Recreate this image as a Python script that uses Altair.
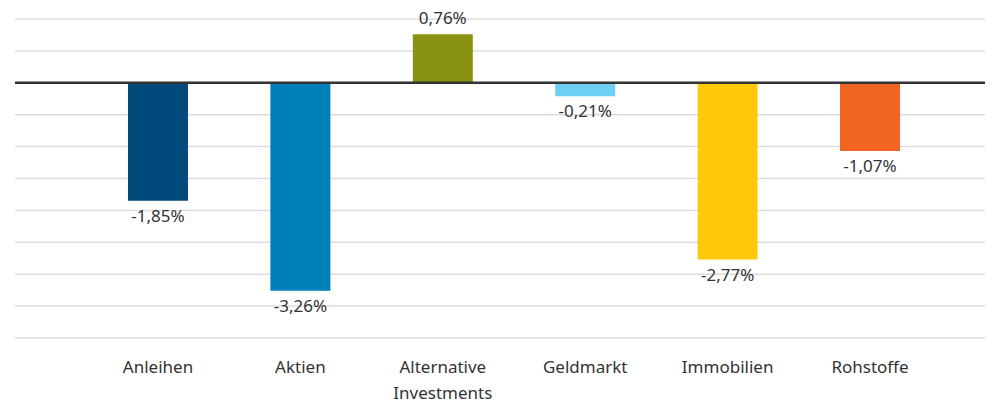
import altair as alt
import pandas as pd

categories = ["Anleihen", "Aktien", "Alternative Investments", "Geldmarkt", "Immobilien", "Rohstoffe"]
values = [-1.85, -3.26, 0.76, -0.21, -2.77, -1.07]
colors = ["#004b7c", "#0080b8", "#8a9212", "#6dcff6", "#ffc90b", "#f26522"]
grid_ticks = [1.0, 0.5, -0.5, -1.0, -1.5, -2.0, -2.5, -3.0, -3.5, -4.0]

df = pd.DataFrame({"cat": categories, "value": values, "color": colors})
grid_df = pd.DataFrame({"g": grid_ticks})

W = 970
H = 319
FONT = "Noto Sans"

x_enc = alt.X(
    "cat:N",
    sort=categories,
    scale=alt.Scale(range=[113, 885], paddingInner=0.579, paddingOuter=0),
    axis=alt.Axis(
        title=None, domain=False, ticks=False, labelAngle=0, grid=False,
        labelFont=FONT, labelFontSize=17, labelColor="#333333",
        labelPadding=21, labelLineHeight=26,
        labelExpr="split(datum.value, ' ')",
    ),
)
y_scale = alt.Scale(domain=[-4, 1], nice=False, zero=True)
y_enc = alt.Y("value:Q", scale=y_scale, axis=None)

grid = alt.Chart(grid_df).mark_rule(color="#dcdcdc", strokeWidth=1.5).encode(
    y=alt.Y("g:Q", scale=y_scale, axis=None), x=alt.value(0), x2=alt.value(W)
)

base = alt.Chart(df).transform_calculate(
    label="(datum.value < 0 ? '-' : '') + replace(format(abs(datum.value), '.2f'), '.', ',') + '%'"
)

bars = base.mark_bar(size=60).encode(
    x=x_enc,
    y=y_enc,
    color=alt.Color("color:N", scale=None),
)

txt_neg = base.transform_filter("datum.value < 0").mark_text(
    baseline="top", dy=8, font=FONT, fontSize=17, color="#333333"
).encode(x=alt.X("cat:N", sort=categories), y="value:Q", text="label:N")

txt_pos = base.transform_filter("datum.value >= 0").mark_text(
    baseline="bottom", dy=-6, font=FONT, fontSize=17, color="#333333"
).encode(x=alt.X("cat:N", sort=categories), y="value:Q", text="label:N")

zero = alt.Chart(pd.DataFrame({"z": [0]})).mark_rule(color="#333333", strokeWidth=2.5).encode(
    y=alt.Y("z:Q", scale=y_scale, axis=None), x=alt.value(0), x2=alt.value(W)
)

chart = alt.layer(grid, bars, zero, txt_neg, txt_pos).properties(
    width=W, height=H,
    autosize=alt.AutoSizeParams(type="none"),
    padding={"left": 7, "top": 11, "right": 0, "bottom": 66},
).configure_view(stroke=None)

chart.save("out.html", embed_options={"renderer": "svg", "actions": False})
